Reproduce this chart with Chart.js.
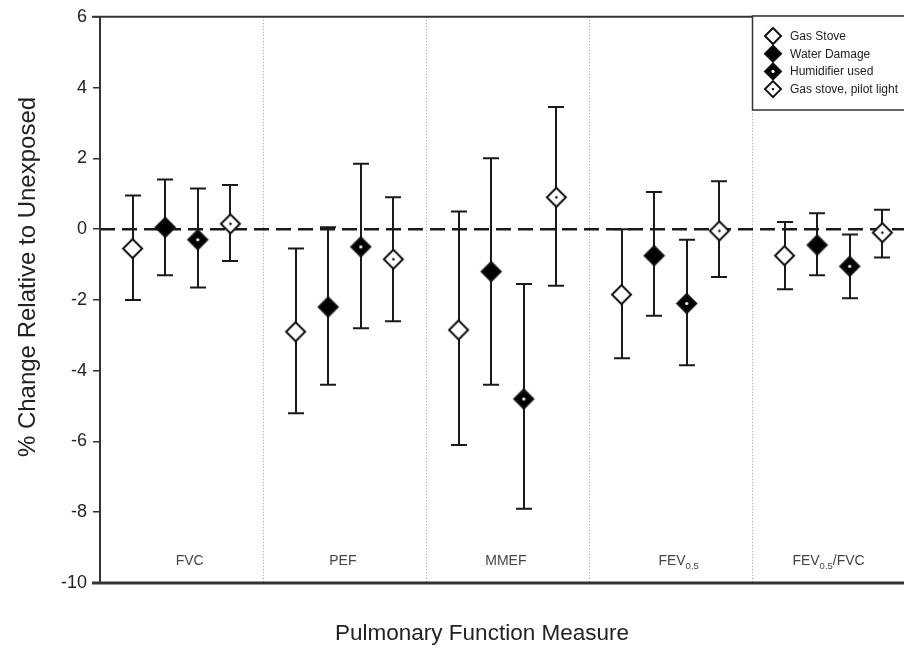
<!DOCTYPE html>
<html>
<head>
<meta charset="utf-8">
<script src="https://cdn.jsdelivr.net/npm/chart.js@4/dist/chart.umd.min.js"></script>
<style>
  html, body { margin: 0; padding: 0; background: #fff; }
  #wrap { width: 904px; height: 648px; }
</style>
</head>
<body>
<div id="wrap"><canvas id="c" width="904" height="648"></canvas></div>
<script>
// ---- Data ----
const categories = ['FVC', 'PEF', 'MMEF', 'FEV0.5', 'FEV0.5/FVC'];
const seriesNames = ['Gas Stove', 'Water Damage', 'Humidifier used', 'Gas stove, pilot light'];

const gasStove      = [-0.55, -2.90, -2.85, -1.85, -0.75];
const gasStoveLow   = [-2.00, -5.20, -6.10, -3.65, -1.70];
const gasStoveHigh  = [ 0.95, -0.55,  0.50,  0.00,  0.20];

const waterDamage     = [ 0.05, -2.20, -1.20, -0.75, -0.45];
const waterDamageLow  = [-1.30, -4.40, -4.40, -2.45, -1.30];
const waterDamageHigh = [ 1.40,  0.05,  2.00,  1.05,  0.45];

const humidifier     = [-0.30, -0.50, -4.80, -2.10, -1.05];
const humidifierLow  = [-1.65, -2.80, -7.90, -3.85, -1.95];
const humidifierHigh = [ 1.15,  1.85, -1.55, -0.30, -0.15];

const pilotLight     = [ 0.15, -0.85,  0.90, -0.05, -0.10];
const pilotLightLow  = [-0.90, -2.60, -1.60, -1.35, -0.80];
const pilotLightHigh = [ 1.25,  0.90,  3.45,  1.35,  0.55];

const yTicks = [6, 4, 2, 0, -2, -4, -6, -8, -10];

// ---- Marker drawing ----
// style: 0 open diamond, 1 filled diamond, 2 filled with white dot, 3 open with black dot
function drawMarker(ctx, x, y, h, style) {
  ctx.save();
  ctx.beginPath();
  ctx.moveTo(x, y - h);
  ctx.lineTo(x + h, y);
  ctx.lineTo(x, y + h);
  ctx.lineTo(x - h, y);
  ctx.closePath();
  ctx.fillStyle = (style === 1 || style === 2) ? '#000' : '#fff';
  ctx.fill();
  ctx.lineWidth = 2;
  ctx.strokeStyle = '#111';
  ctx.lineJoin = 'miter';
  ctx.stroke();
  if (style === 2) {
    ctx.beginPath(); ctx.arc(x, y, 1.6, 0, Math.PI * 2); ctx.fillStyle = '#fff'; ctx.fill();
  } else if (style === 3) {
    ctx.beginPath(); ctx.arc(x, y, 1.2, 0, Math.PI * 2); ctx.fillStyle = '#000'; ctx.fill();
  }
  ctx.restore();
}
function markerCanvas(style, h) {
  const s = Math.ceil(h * 2 + 6);
  const cv = document.createElement('canvas');
  cv.width = s; cv.height = s;
  drawMarker(cv.getContext('2d'), s / 2, s / 2, h, style);
  return cv;
}

const values = [gasStove, waterDamage, humidifier, pilotLight];
const lows = [gasStoveLow, waterDamageLow, humidifierLow, pilotLightLow];
const highs = [gasStoveHigh, waterDamageHigh, humidifierHigh, pilotLightHigh];
const offsets = [0.2, 0.4, 0.6, 0.8];
const labelNudge = [0.05, -0.01, -0.01, 0.05, -0.03];

const datasets = seriesNames.map((name, s) => ({
  label: name,
  data: values[s].map((v, i) => ({ x: i + offsets[s], y: v })),
  showLine: false,
  pointStyle: markerCanvas(s, 9.5),
  pointRadius: 9,
  pointHoverRadius: 9,
  errLow: lows[s],
  errHigh: highs[s],
  markerStyle: s
}));

const FONT = '"Liberation Sans", Arial, sans-serif';

const overlay = {
  id: 'overlay',
  beforeDatasetsDraw(chart) {
    const ctx = chart.ctx, xs = chart.scales.x, ys = chart.scales.y, ca = chart.chartArea;
    ctx.save();
    // dotted separators
    ctx.strokeStyle = '#9a9a9a';
    ctx.lineWidth = 1;
    ctx.setLineDash([1, 2]);
    for (let i = 1; i < categories.length; i++) {
      const x = Math.round(xs.getPixelForValue(i)) + 0.5;
      ctx.beginPath(); ctx.moveTo(x, ca.top); ctx.lineTo(x, ca.bottom); ctx.stroke();
    }
    // dashed zero line
    ctx.setLineDash([15, 7]);
    ctx.strokeStyle = '#1a1a1a';
    ctx.lineWidth = 2.5;
    const y0 = ys.getPixelForValue(0);
    ctx.beginPath(); ctx.moveTo(ca.left, y0); ctx.lineTo(ca.right, y0); ctx.stroke();
    ctx.setLineDash([]);
    // error bars
    ctx.strokeStyle = '#1a1a1a';
    ctx.lineWidth = 2;
    chart.data.datasets.forEach(ds => {
      ds.data.forEach((p, i) => {
        const x = Math.round(xs.getPixelForValue(p.x));
        const yl = ys.getPixelForValue(ds.errLow[i]);
        const yh = ys.getPixelForValue(ds.errHigh[i]);
        ctx.beginPath();
        ctx.moveTo(x, yl); ctx.lineTo(x, yh);
        ctx.moveTo(x - 8, yl); ctx.lineTo(x + 8, yl);
        ctx.moveTo(x - 8, yh); ctx.lineTo(x + 8, yh);
        ctx.stroke();
      });
    });
    ctx.restore();
  },
  afterDatasetsDraw(chart) {
    const ctx = chart.ctx, xs = chart.scales.x, ys = chart.scales.y, ca = chart.chartArea;
    ctx.save();
    // frame lines
    ctx.strokeStyle = '#333';
    ctx.lineWidth = 2;
    ctx.beginPath(); ctx.moveTo(ca.left - 8, ca.top); ctx.lineTo(ca.right, ca.top); ctx.stroke();
    ctx.lineWidth = 3;
    ctx.beginPath(); ctx.moveTo(ca.left - 8, ca.bottom); ctx.lineTo(ca.right, ca.bottom); ctx.stroke();
    ctx.lineWidth = 2;
    ctx.beginPath(); ctx.moveTo(ca.left, ca.top); ctx.lineTo(ca.left, ca.bottom); ctx.stroke();

    // category labels with subscripts
    ctx.fillStyle = '#444';
    ctx.textBaseline = 'alphabetic';
    categories.forEach((c, i) => {
      const parts = c.split(/(0\.5)/).filter(t => t.length);
      const w = parts.reduce((acc, t) => {
        ctx.font = (t === '0.5' ? '9.5px ' : '14px ') + FONT;
        return acc + ctx.measureText(t).width;
      }, 0);
      let x = xs.getPixelForValue(i + 0.5 + labelNudge[i]) - w / 2;
      const base = 565;
      parts.forEach(t => {
        const sub = t === '0.5';
        ctx.font = (sub ? '9.5px ' : '14px ') + FONT;
        ctx.textAlign = 'left';
        ctx.fillText(t, x, sub ? base + 4 : base);
        x += ctx.measureText(t).width;
      });
    });

    // legend
    const lx = 752, ly = 16;
    ctx.fillStyle = '#fff';
    ctx.fillRect(lx, ly, 160, 94);
    ctx.strokeStyle = '#333';
    ctx.lineWidth = 1.5;
    ctx.strokeRect(lx + 0.5, ly, 170, 94);
    ctx.font = '12px ' + FONT;
    ctx.textAlign = 'left';
    ctx.textBaseline = 'middle';
    chart.data.datasets.forEach((ds, k) => {
      const yy = 36 + k * 17.7;
      drawMarker(ctx, 773, yy, 8, ds.markerStyle);
      ctx.fillStyle = '#222';
      ctx.fillText(ds.label, 790, yy + 0.5);
    });

    // axis titles
    ctx.fillStyle = '#222';
    ctx.font = '22.5px ' + FONT;
    ctx.textAlign = 'center';
    ctx.textBaseline = 'alphabetic';
    ctx.fillText('Pulmonary Function Measure', 482, 640);
    ctx.save();
    ctx.translate(35, 277);
    ctx.rotate(-Math.PI / 2);
    ctx.font = '24px ' + FONT;
    ctx.fillText('% Change Relative to Unexposed', 0, 0);
    ctx.restore();
    ctx.restore();
  }
};

new Chart(document.getElementById('c'), {
  type: 'scatter',
  data: { datasets },
  options: {
    responsive: false,
    animation: false,
    events: [],
    layout: { autoPadding: false, padding: { top: 16, right: 0, left: 0, bottom: 0 } },
    plugins: { legend: { display: false }, tooltip: { enabled: false } },
    scales: {
      x: {
        type: 'linear', min: 0, max: 4.933,
        ticks: { display: false },
        grid: { display: false },
        border: { display: false },
        afterFit(scale) { scale.height = 65; }
      },
      y: {
        type: 'linear', min: -10, max: 6,
        afterBuildTicks(scale) { scale.ticks = yTicks.map(v => ({ value: v })); },
        ticks: { color: '#222', font: { family: FONT, size: 18 }, padding: 6 },
        grid: { drawOnChartArea: false, tickLength: 7, color: '#333', lineWidth: 1.5 },
        border: { display: false },
        afterFit(scale) { scale.width = 100; }
      }
    }
  },
  plugins: [overlay]
});
</script>
</body>
</html>
